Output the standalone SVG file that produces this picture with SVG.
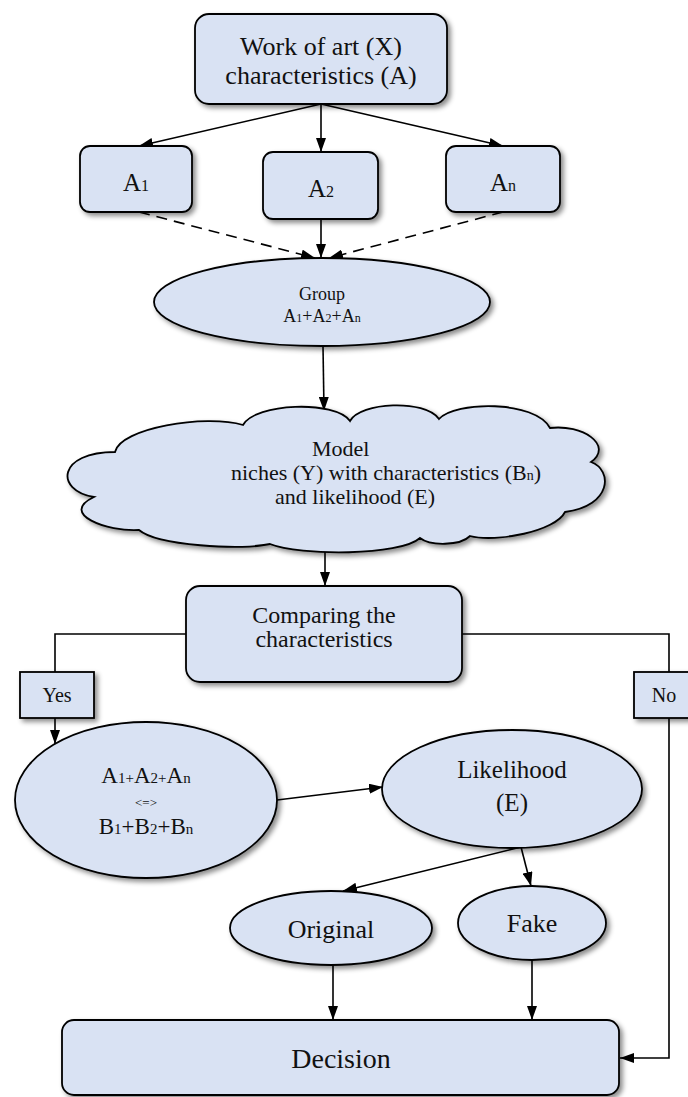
<svg xmlns="http://www.w3.org/2000/svg" width="688" height="1097" viewBox="0 0 688 1097">
<style>
.n{fill:#d9e2f3;stroke:#000;stroke-width:1.8;filter:url(#sh)}
.t,.l{font-family:'Liberation Serif','DejaVu Serif','Times New Roman',Times,serif;fill:#111}
.t{text-anchor:middle}
.l{text-anchor:start}
.c{fill:none;stroke:#000;stroke-width:1.6}
.d{stroke-dasharray:11 7}
.a{marker-end:url(#ah)}
</style>
<defs>
<filter id="sh" x="-10%" y="-10%" width="130%" height="140%">
<feDropShadow dx="3" dy="3" stdDeviation="2.5" flood-color="#000" flood-opacity="0.45"/>
</filter>
<marker id="ah" viewBox="0 0 14 10" refX="14" refY="5" markerWidth="14" markerHeight="10" markerUnits="userSpaceOnUse" orient="auto">
<path d="M0,0 L14,5 L0,10 z" fill="#000"/>
</marker>
</defs>

<!-- connectors -->
<g id="connectors">
<path class="c a" d="M321,104 L139,146"/>
<path class="c a" d="M321,104 L321,152"/>
<path class="c a" d="M321,104 L503,146"/>
<path class="c d a" d="M139,212 L315,258"/>
<path class="c d a" d="M503,212 L329,258"/>
<path class="c a" d="M321,219 L321,258"/>
<path class="c a" d="M323,346 L324,411"/>
<path class="c a" d="M325,548 L325,586"/>
<path class="c" d="M186,634 L55,634 L55,672"/>
<path class="c a" d="M55,718 L55,744"/>
<path class="c" d="M462,634 L669,634 L669,672"/>
<path class="c a" d="M669,718 L669,1058 L620,1058"/>
<path class="c a" d="M277,800 L383,787"/>
<path class="c a" d="M521,847 L343,891"/>
<path class="c a" d="M521,847 L531,886"/>
<path class="c a" d="M333,965 L333,1020"/>
<path class="c a" d="M532,960 L532,1020"/>
</g>

<g id="work-of-art">
<rect class="n" x="195" y="14" width="252" height="90" rx="14"/>
<text class="t" x="321" y="55" font-size="26">Work of art (X)</text>
<text class="t" x="321" y="84" font-size="26">characteristics (A)</text>
</g>

<g id="a1">
<rect class="n" x="80" y="146" width="112" height="66" rx="10"/>
<text class="t" x="136" y="191" font-size="25">A<tspan font-size="16">1</tspan></text>
</g>

<g id="a2">
<rect class="n" x="263" y="152" width="115" height="67" rx="10"/>
<text class="t" x="321" y="197" font-size="25">A<tspan font-size="16">2</tspan></text>
</g>

<g id="an">
<rect class="n" x="446" y="146" width="114" height="66" rx="10"/>
<text class="t" x="503" y="191" font-size="25">A<tspan font-size="16">n</tspan></text>
</g>

<g id="group">
<ellipse class="n" cx="322" cy="302" rx="168" ry="44"/>
<text class="t" x="322" y="300" font-size="18">Group</text>
<text class="t" x="322" y="322" font-size="18">A<tspan font-size="12">1</tspan>+A<tspan font-size="12">2</tspan>+A<tspan font-size="12">n</tspan></text>
</g>

<g id="model">
<path class="n" d="M115,452 C120,428 205,414 243,425 C255,403 335,400 350,421 C360,402 425,399 439,419 C455,401 535,400 550,428 C582,424 614,445 591,462 C613,470 612,506 565,512 C556,531 496,543 470,536 C460,546 430,546 420,538 C400,556 300,556 270,544 C240,550 158,546 139,530 C108,532 58,514 94,497 C54,490 58,452 115,452 Z"/>
<text class="l" x="312" y="456" font-size="22">Model</text>
<text class="l" x="231" y="480" font-size="22">niches (Y) with characteristics (B<tspan font-size="14">n</tspan>)</text>
<text class="l" x="275" y="504" font-size="22">and likelihood (E)</text>
</g>

<g id="comparing">
<rect class="n" x="186" y="586" width="276" height="96" rx="14"/>
<text class="t" x="324" y="623" font-size="24">Comparing the</text>
<text class="t" x="324" y="647" font-size="24">characteristics</text>
</g>

<g id="yes">
<rect class="n" x="20" y="672" width="74" height="46"/>
<text class="t" x="57" y="702" font-size="20">Yes</text>
</g>

<g id="no">
<rect class="n" x="634" y="672" width="60" height="46"/>
<text class="t" x="664" y="702" font-size="20">No</text>
</g>

<g id="equivalence">
<ellipse class="n" cx="146" cy="800" rx="131" ry="78"/>
<text class="t" x="146" y="783" font-size="23">A<tspan font-size="15">1+</tspan>A<tspan font-size="15">2+</tspan>A<tspan font-size="15">n</tspan></text>
<text class="t" x="146" y="807" font-size="13">&lt;=&gt;</text>
<text class="t" x="146" y="834" font-size="23">B<tspan font-size="15">1</tspan>+B<tspan font-size="15">2</tspan>+B<tspan font-size="15">n</tspan></text>
</g>

<g id="likelihood">
<ellipse class="n" cx="512" cy="789" rx="130" ry="59"/>
<text class="t" x="512" y="778" font-size="25">Likelihood</text>
<text class="t" x="512" y="811" font-size="25">(E)</text>
</g>

<g id="original">
<ellipse class="n" cx="331" cy="928" rx="101" ry="37"/>
<text class="t" x="331" y="938" font-size="26">Original</text>
</g>

<g id="fake">
<ellipse class="n" cx="532" cy="923" rx="74" ry="37"/>
<text class="t" x="532" y="932" font-size="26">Fake</text>
</g>

<g id="decision">
<rect class="n" x="62" y="1020" width="557" height="75" rx="12"/>
<text class="t" x="341" y="1068" font-size="28">Decision</text>
</g>
</svg>
